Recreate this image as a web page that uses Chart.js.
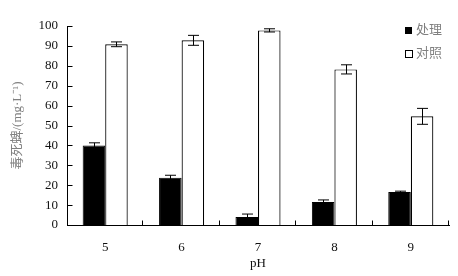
<!DOCTYPE html>
<html>
<head>
<meta charset="utf-8">
<script src="https://cdn.jsdelivr.net/npm/chart.js@4"></script>
<style>
  html, body { margin: 0; padding: 0; background: #fff; }
  #wrap { width: 458px; height: 276px; }
</style>
</head>
<body>
<div id="wrap"><canvas id="c"></canvas></div>
<script>
// values
const phLevels = ['5', '6', '7', '8', '9'];
const treated = [40, 23.7, 4, 11.6, 16.6];
const treatedErr = [1.3, 1.3, 1.5, 1.0, 0.4];
const control = [90.8, 92.8, 97.8, 78.2, 54.6];
const controlErr = [1.2, 2.5, 0.8, 2.3, 4.0];
const seriesNames = ['处理', '对照'];

const serif = '"Liberation Serif", "Noto Sans CJK SC", serif';

// error bars + inward ticks + legend
const extras = {
    id: 'extras',
    afterDatasetsDraw(chart) {
        const ctx = chart.ctx;
        const yScale = chart.scales.y;
        const xScale = chart.scales.x;
        const errs = [treatedErr, controlErr];
        const vals = [treated, control];
        ctx.save();
        ctx.strokeStyle = '#000';
        ctx.lineWidth = 1;
        errs.forEach((err, i) => {
            const meta = chart.getDatasetMeta(i);
            meta.data.forEach((bar, j) => {
                const x = Math.round(bar.x) + 0.5;
                const top = yScale.getPixelForValue(vals[i][j] + err[j]);
                const bot = yScale.getPixelForValue(vals[i][j] - err[j]);
                ctx.beginPath();
                ctx.moveTo(x, top); ctx.lineTo(x, bot);
                ctx.moveTo(x - 5.5, top); ctx.lineTo(x + 5.5, top);
                ctx.moveTo(x - 5.5, bot); ctx.lineTo(x + 5.5, bot);
                ctx.stroke();
            });
        });
        // y ticks pointing inward
        const ax = Math.round(xScale.left) + 0.5;
        yScale.ticks.forEach((t, k) => {
            const y = Math.round(yScale.getPixelForTick(k)) + 0.5;
            ctx.beginPath();
            ctx.moveTo(ax, y); ctx.lineTo(ax + 5, y);
            ctx.stroke();
        });
        // x ticks at category boundaries
        const step = (xScale.right - xScale.left) / phLevels.length;
        const ay = Math.round(yScale.bottom) + 0.5;
        for (let i = 1; i <= phLevels.length; i++) {
            const x = Math.round(xScale.left + i * step) - 0.5;
            ctx.beginPath();
            ctx.moveTo(x, ay); ctx.lineTo(x, ay - 5);
            ctx.stroke();
        }
        // legend
        ctx.font = '13px ' + serif;
        ctx.textBaseline = 'middle';
        ctx.fillStyle = '#000';
        ctx.fillRect(405, 27, 7, 7);
        ctx.strokeRect(405.5, 50.5, 7, 7);
        ctx.fillStyle = '#808080';
        ctx.fillText(seriesNames[0], 416, 31);
        ctx.fillText(seriesNames[1], 416, 54);
        ctx.restore();
    }
};

new Chart(document.getElementById('c'), {
    type: 'bar',
    data: {
        labels: phLevels,
        datasets: [{
            label: seriesNames[0],
            data: treated,
            backgroundColor: '#000',
            borderColor: '#000',
            borderWidth: 1
        }, {
            label: seriesNames[1],
            data: control,
            backgroundColor: '#fff',
            borderColor: '#000',
            borderWidth: 1.2
        }]
    },
    options: {
        responsive: true,
        maintainAspectRatio: false,
        animation: false,
        layout: { padding: { top: 26, right: 9, left: 0, bottom: 0 } },
        categoryPercentage: 0.59,
        barPercentage: 1,
        plugins: {
            legend: { display: false },
            tooltip: { enabled: false }
        },
        scales: {
            x: {
                grid: { display: false, drawTicks: false },
                border: { color: '#000', width: 1 },
                ticks: { color: '#111', font: { family: serif, size: 13 }, padding: 15 },
                title: { display: true, text: 'pH', color: '#111', font: { family: serif, size: 13 }, padding: { top: 0, bottom: 5 } },
                afterFit: s => { s.height = 51; }
            },
            y: {
                min: 0,
                max: 100,
                grid: { display: false, drawTicks: false },
                border: { color: '#000', width: 1 },
                ticks: { stepSize: 10, color: '#111', font: { family: serif, size: 13 }, padding: 9 },
                title: { display: true, text: '毒死蜱/(mg·L⁻¹)', color: '#808080', font: { family: serif, size: 13 }, padding: { top: 10, bottom: 0 } },
                afterFit: s => { s.width = 67; }
            }
        }
    },
    plugins: [extras]
});
</script>
</body>
</html>
